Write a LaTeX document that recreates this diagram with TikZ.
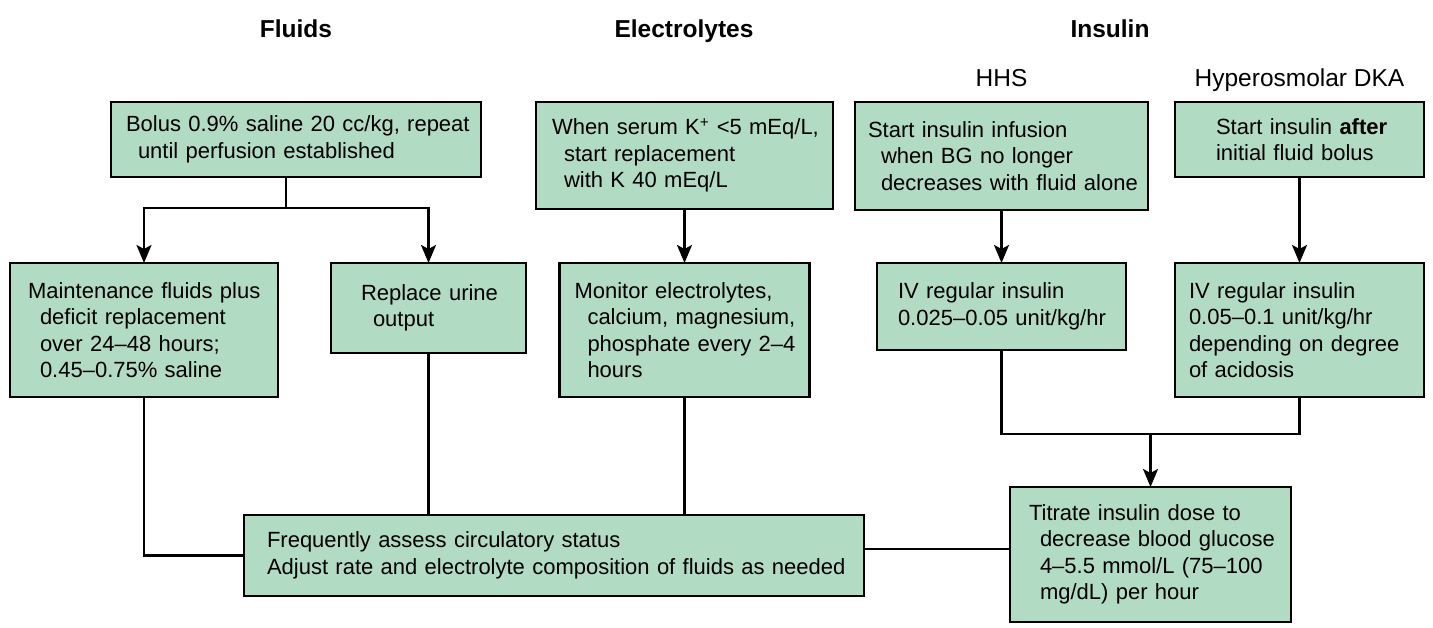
\documentclass[tikz,border=0pt]{standalone}
\usepackage{fontspec}
\setmainfont{Liberation Sans}
\usetikzlibrary{arrows.meta}
\definecolor{boxfill}{RGB}{178,219,195}
\begin{document}
\begin{tikzpicture}[x=1pt,y=-1pt,
  box/.style={draw=black, fill=boxfill, line width=2.9pt, inner xsep=0pt, inner ysep=0pt,
    outer sep=0pt, align=left, font=\fontsize{22}{26.5}\selectfont},
  title/.style={font=\fontsize{24.5}{29}\selectfont\bfseries, anchor=base, inner sep=0pt},
  subtitle/.style={font=\fontsize{24.5}{29}\selectfont, anchor=base, inner sep=0pt},
  link/.style={line width=2.4pt},
  arr/.style={link, -{Stealth[length=18pt,width=15pt,inset=4pt]}}]
\useasboundingbox (0,0) rectangle (1433,628);

% column titles
\node[title] (tfl) at (296,37.5) {Fluids};
\node[title] (tel) at (684,37.5) {Electrolytes};
\node[title] (tin) at (1110,37.5) {Insulin};
\node[subtitle] (thhs) at (1001.5,87) {HHS};
\node[subtitle] (tdka) at (1299.5,87) {Hyperosmolar DKA};

% fluids
\node[box, text width=370pt, minimum height=75pt] (bolus) at (296,139.5)
  {\hspace*{15pt}Bolus 0.9\% saline 20 cc/kg, repeat\\\hspace*{27pt}until perfusion established};
\node[box, text width=268pt, minimum height=134pt] (maint) at (144,330)
  {\hspace*{18pt}Maintenance fluids plus\\\hspace*{30pt}deficit replacement\\\hspace*{30pt}over 24–48 hours;\\\hspace*{30pt}0.45–0.75\% saline};
\node[box, text width=195pt, minimum height=90pt] (urine) at (428.5,308)
  {\hspace*{30pt}Replace urine\\\hspace*{42pt}output};

% electrolytes
\node[box, text width=297pt, minimum height=107pt] (elec) at (684.5,155.5)
  {\hspace*{16pt}When serum K\textsuperscript{+} <5 mEq/L,\\\hspace*{28pt}start replacement\\\hspace*{28pt}with K 40 mEq/L};
\node[box, text width=250pt, minimum height=134pt] (mon) at (684.5,330)
  {\hspace*{15pt}Monitor electrolytes,\\\hspace*{28pt}calcium, magnesium,\\\hspace*{28pt}phosphate every 2–4\\\hspace*{28pt}hours};

% insulin
\node[box, text width=293pt, minimum height=108pt] (hhs) at (1001.5,156)
  {\hspace*{13pt}Start insulin infusion\\\hspace*{26pt}when BG no longer\\\hspace*{26pt}decreases with fluid alone};
\node[box, text width=249pt, minimum height=75pt] (dka) at (1299.5,139.5)
  {\hspace*{41pt}Start insulin \textbf{after}\\\hspace*{41pt}initial fluid bolus};
\node[box, text width=249pt, minimum height=87pt] (hhsiv) at (1001.5,306.5)
  {\hspace*{21pt}IV regular insulin\\\hspace*{21pt}0.025–0.05 unit/kg/hr};
\node[box, text width=249pt, minimum height=134pt] (dkaiv) at (1299.5,330)
  {\hspace*{14pt}IV regular insulin\\\hspace*{14pt}0.05–0.1 unit/kg/hr\\\hspace*{14pt}depending on degree\\\hspace*{14pt}of acidosis};
\node[box, text width=281pt, minimum height=135pt] (titr) at (1150.5,554.5)
  {\hspace*{19pt}Titrate insulin dose to\\\hspace*{30pt}decrease blood glucose\\\hspace*{30pt}4–5.5 mmol/L (75–100\\\hspace*{30pt}mg/dL) per hour};

% common
\node[box, text width=620pt, minimum height=81pt] (freq) at (554,555.5)
  {\hspace*{23pt}Frequently assess circulatory status\\\hspace*{23pt}Adjust rate and electrolyte composition of fluids as needed};

% connectors
\coordinate (splt) at (286,208);
\coordinate (mrg) at (1150.5,434);
\coordinate (lk) at (0,549);
\draw[link] (bolus.south -| splt) -- (splt);
\draw[arr] (splt) -| (maint.north);
\draw[arr] (splt) -| (urine.north);
\draw[link] (maint.south) |- (freq.west);
\draw[link] (urine.south) -- (urine.south |- freq.north);
\draw[arr] (elec.south) -- (mon.north);
\draw[link] (mon.south) -- (mon.south |- freq.north);
\draw[arr] (hhs.south) -- (hhsiv.north);
\draw[arr] (dka.south) -- (dkaiv.north);
\draw[link] (hhsiv.south) |- (mrg) -| (dkaiv.south);
\draw[arr] (mrg) -- (titr.north);
\draw[link] (freq.east |- lk) -- (titr.west |- lk);
\end{tikzpicture}
\end{document}
